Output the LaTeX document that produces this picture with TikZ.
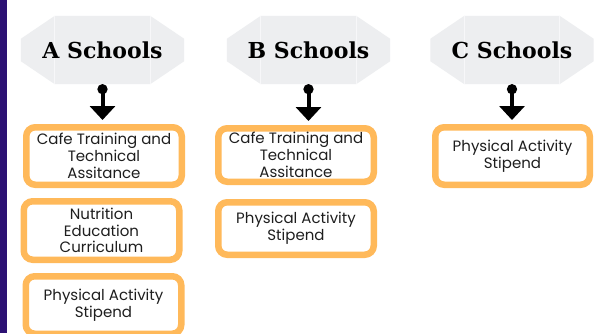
\documentclass[tikz,border=0pt]{standalone}
\usepackage{fontspec}
\newfontfamily\titlefont{DejaVu Serif}
\newfontfamily\bodyfont{Poppins}
\usetikzlibrary{arrows.meta,backgrounds}
\definecolor{barpurple}{HTML}{2C1173}
\definecolor{headgray}{HTML}{EDEEF0}
\definecolor{seam}{HTML}{F7F7F9}
\definecolor{boxorange}{HTML}{FFB95A}
\definecolor{ink}{HTML}{1E1E1E}
\tikzset{
  head/.style={minimum width=163pt, minimum height=68pt, inner sep=0pt,
    font=\titlefont\bfseries\fontsize{22}{24}\selectfont, text=black},
  item/.style={draw=boxorange, line width=6.5pt, rounded corners=9pt, fill=white,
    minimum width=155.5pt, minimum height=57.5pt, inner sep=0pt, align=center,
    text=ink, font=\bodyfont\fontsize{15}{16.8}\selectfont},
  link/.style={line width=4pt, {Circle[length=10pt]}-{Triangle[width=25pt,length=14pt]},
    shorten >=4pt}
}
\begin{document}
\begin{tikzpicture}[x=1pt,y=-1pt]
\useasboundingbox (0,0) rectangle (600,333);

% school headings
\node[head] (hA) at (102.5,50) {A Schools};
\node[head] (hB) at (308.5,50) {B Schools};
\node[head] (hC) at (512,50) {C Schools};

% page, side bar and chamfered grey plates behind the headings
\begin{scope}[on background layer]
\fill[white] (0,0) rectangle (600,333);
\fill[barpurple] (0,0) rectangle (7,333);
\foreach \h in {hA,hB,hC}{
  \fill[headgray] ([xshift=34pt]\h.north west) -- ([xshift=-34pt]\h.north east)
    -- ([yshift=-23pt]\h.north east) -- ([yshift=23pt]\h.south east)
    -- ([xshift=-34pt]\h.south east) -- ([xshift=34pt]\h.south west)
    -- ([yshift=23pt]\h.south west) -- ([yshift=-23pt]\h.north west) -- cycle;
  \draw[seam, line width=0.8pt] ([xshift=34pt]\h.north west) -- ([xshift=34pt]\h.south west);
  \draw[seam, line width=0.8pt] ([xshift=-34pt]\h.north east) -- ([xshift=-34pt]\h.south east);
}
\end{scope}

% programme boxes
\node[item] (A1) at (104,156) {Cafe Training and\\Technical\\Assitance};
\node[item, minimum height=58.5pt] (A2) at (101.5,230.5) {Nutrition\\Education\\Curriculum};
\node[item] (A3) at (103.5,305) {Physical Activity\\Stipend};
\node[item, minimum height=53.5pt] (B1) at (296,155) {Cafe Training and\\Technical\\Assitance};
\node[item, minimum height=52.5pt] (B2) at (296,228.5) {Physical Activity\\Stipend};
\node[item, minimum width=154.5pt] (C1) at (512.5,156) {Physical Activity\\Stipend};

% connectors
\draw[link] (hA.south) -- (hA.south |- A1.north);
\draw[link] (hB.south) -- (hB.south |- B1.north);
\draw[link] (hC.south) -- (hC.south |- C1.north);
\end{tikzpicture}
\end{document}
